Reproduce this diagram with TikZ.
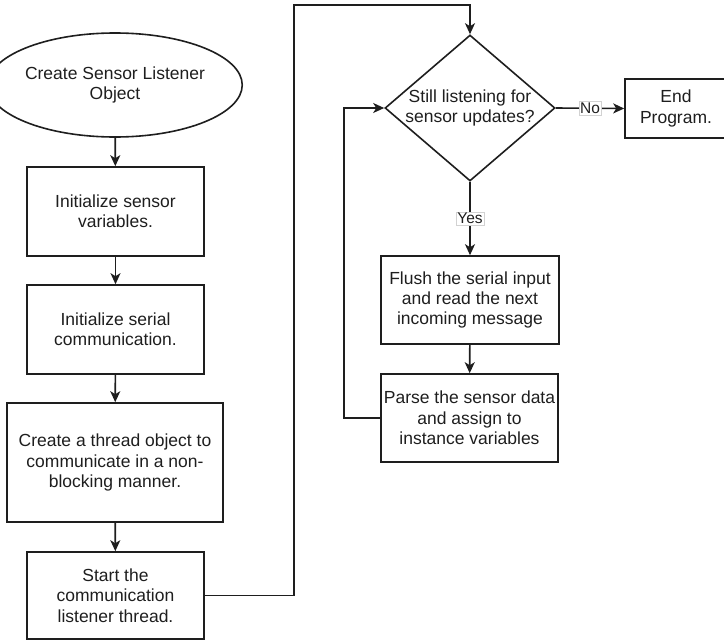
\documentclass[tikz,border=0pt]{standalone}
\usepackage{fontspec}
\setmainfont{Liberation Sans}
\usetikzlibrary{shapes.geometric,arrows.meta}
\definecolor{ink}{HTML}{1E1E1E}
\begin{document}
\begin{tikzpicture}[x=1pt,y=-1pt,
  every node/.style={font=\fontsize{17.5}{20.4}\selectfont, text=ink, align=center},
  box/.style={draw=ink, line width=1.6pt, rectangle, inner sep=0pt},
  conn/.style={draw=ink, line width=1.6pt, -{Stealth[length=11pt,width=10pt,inset=3pt]}},
  lab/.style={font=\fontsize{15.5}{17}\selectfont, fill=white, draw=gray!35, line width=0.6pt, inner sep=1.2pt}]
  \useasboundingbox (0,0) rectangle (724,640);

  % left column
  \node[draw=ink, line width=1.6pt, ellipse, inner sep=0pt, minimum width=194pt, minimum height=104pt]
    (start) at (115,85) {Create Sensor Listener\\Object};
  \node[box, minimum width=177pt, minimum height=89pt] (vars) at (115.5,211.5) {Initialize sensor\\variables.};
  \node[box, minimum width=177pt, minimum height=89pt] (serial) at (115.5,329.5) {Initialize serial\\communication.};
  \node[box, minimum width=216pt, minimum height=119pt] (thread) at (115,462.5) {Create a thread object to\\communicate in a non-\\blocking manner.};
  \node[box, minimum width=177pt, minimum height=87pt] (listen) at (115.5,595.5) {Start the\\communication\\listener thread.};

  % right column
  \node[draw=ink, line width=1.6pt, diamond, inner sep=0pt, minimum width=170pt, minimum height=146pt]
    (check) at (470,108) {};
  \node (checktext) at (470,108) {Still listening for\\sensor updates?};
  \node[box, minimum width=102pt, minimum height=59pt] (stop) at (676,108.5) {End\\Program.};
  \node[box, minimum width=178pt, minimum height=88pt] (flush) at (470,300) {Flush the serial input\\and read the next\\incoming message};
  \node[box, minimum width=177pt, minimum height=88pt] (parse) at (469.5,418) {Parse the sensor data\\and assign to\\instance variables};

  \coordinate (up1) at (294,595.5);
  \coordinate (up2) at (294,5);
  \coordinate (up3) at (470,5);
  \coordinate (back1) at (344,418);
  \coordinate (back2) at (344,108);

  % connectors
  \draw[conn] (start) -- (vars);
  \draw[conn] (vars) -- (serial);
  \draw[conn] (serial) -- (thread);
  \draw[conn] (thread) -- (listen);
  \draw[conn] (listen.east) -- (up1) -- (up2) -- (up3) -- (check.north);
  \draw[conn] (check.east) -- node[lab] (nolab) {No} (stop.west);
  \draw[conn] (check.south) -- node[lab] (yeslab) {Yes} (flush.north);
  \draw[conn] (flush) -- (parse);
  \draw[conn] (parse.west) -- (back1) -- (back2) -- (check.west);
\end{tikzpicture}
\end{document}
